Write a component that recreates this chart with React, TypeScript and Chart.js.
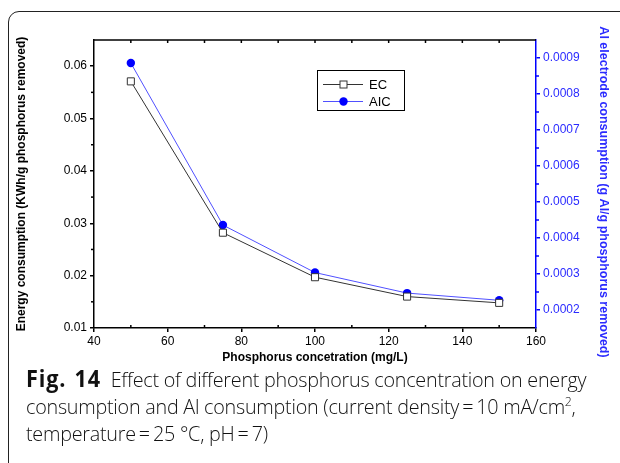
import React, { useEffect, useRef } from "react";
import { Chart, registerables } from "chart.js";

Chart.register(...registerables);

const concentrations = [50, 75, 100, 125, 150];
const energyConsumption = [0.0571, 0.0282, 0.0197, 0.016, 0.0148];
const alConsumption = [0.000886, 0.000436, 0.000304, 0.000247, 0.000227];
const seriesNames = ["EC", "AIC"];
const leftTicks = [0.01, 0.02, 0.03, 0.04, 0.05, 0.06];
const rightTicks = [0.0002, 0.0003, 0.0004, 0.0005, 0.0006, 0.0007, 0.0008, 0.0009];
const xTicks = [40, 60, 80, 100, 120, 140, 160];
const xTitle = "Phosphorus concetration (mg/L)";
const yLeftTitle = "Energy consumption (KWh/g phosphorus removed)";
const yRightTitle = "Al electrode consumption (g Al/g phosphorus removed)";

const FONT = "'Liberation Sans', Arial, sans-serif";
const BLUE = "#2b2bff";

const ticksPlugin = {
  id: "axisTicks",
  afterDraw(chart: any) {
    const ctx = chart.ctx;
    const x = chart.scales.x;
    const y = chart.scales.y;
    const y1 = chart.scales.y1;
    const area = chart.chartArea;
    ctx.save();
    ctx.lineWidth = 1.5;
    ctx.strokeStyle = "#000";
    ctx.beginPath();
    ctx.moveTo(area.left, area.top);
    ctx.lineTo(area.right, area.top);
    ctx.stroke();
    for (let v = 40; v <= 160; v += 10) {
      const px = x.getPixelForValue(v);
      const major = v % 20 === 0;
      if (v !== 40 && v !== 160) {
        ctx.beginPath();
        ctx.moveTo(px, area.top);
        ctx.lineTo(px, area.top + 3);
        ctx.stroke();
      }
      if (!major) {
        ctx.beginPath();
        ctx.moveTo(px, area.bottom);
        ctx.lineTo(px, area.bottom - 3);
        ctx.stroke();
      }
    }
    for (let i = 0; i < 11; i++) {
      const v = 0.015 + i * 0.01;
      if (v >= 0.065) break;
      const py = y.getPixelForValue(v);
      ctx.beginPath();
      ctx.moveTo(area.left, py);
      ctx.lineTo(area.left - 3, py);
      ctx.stroke();
    }
    ctx.strokeStyle = "#0000ff";
    for (let i = 0; i < 10; i++) {
      const v = 0.00025 + i * 0.0001;
      if (v >= 0.00095 - 1e-9) break;
      const py = y1.getPixelForValue(v);
      ctx.beginPath();
      ctx.moveTo(area.right, py);
      ctx.lineTo(area.right + 3, py);
      ctx.stroke();
    }
    // right axis title
    ctx.translate(603, (area.top + area.bottom) / 2 + 8);
    ctx.rotate(Math.PI / 2);
    ctx.fillStyle = BLUE;
    ctx.font = `bold 12.5px ${FONT}`;
    ctx.textAlign = "center";
    ctx.textBaseline = "middle";
    ctx.fillText(yRightTitle, 0, 0);
    ctx.restore();
  },
};

const legendPlugin = {
  id: "boxLegend",
  afterDraw(chart: any) {
    const ctx = chart.ctx;
    const bx = 317, by = 70, bw = 87, bh = 40;
    ctx.save();
    ctx.strokeStyle = "#000";
    ctx.lineWidth = 1;
    ctx.strokeRect(bx + 0.5, by + 0.5, bw, bh);
    const rows = [
      { y: 84.5, color: "#333", name: seriesNames[0], type: "rect" },
      { y: 101.5, color: "#5050ff", name: seriesNames[1], type: "circle" },
    ];
    ctx.font = `13px ${FONT}`;
    ctx.textBaseline = "middle";
    for (const r of rows) {
      ctx.strokeStyle = r.color;
      ctx.lineWidth = 1;
      ctx.beginPath();
      ctx.moveTo(323, r.y);
      ctx.lineTo(363, r.y);
      ctx.stroke();
      if (r.type === "rect") {
        ctx.fillStyle = "#fff";
        ctx.fillRect(340, r.y - 3.5, 7, 7);
        ctx.strokeRect(340, r.y - 3.5, 7, 7);
      } else {
        ctx.fillStyle = "#0000ff";
        ctx.beginPath();
        ctx.arc(343.5, r.y, 4.2, 0, Math.PI * 2);
        ctx.fill();
      }
      ctx.fillStyle = "#000";
      ctx.fillText(r.name, 369, r.y + 0.5);
    }
    ctx.restore();
  },
};

const setTicks = (vals: number[]) => (s: any) => {
  s.ticks = vals.map((v) => ({ value: v }));
};

export default function App() {
  const ref = useRef<HTMLCanvasElement | null>(null);
  useEffect(() => {
    if (!ref.current) return;
    const chart = new Chart(ref.current, {
      type: "line",
      data: {
        datasets: [
          {
            label: seriesNames[0],
            data: concentrations.map((c, i) => ({ x: c, y: energyConsumption[i] })),
            borderColor: "#333",
            borderWidth: 1,
            pointStyle: "rect",
            pointRadius: 5,
            pointBackgroundColor: "#fff",
            pointBorderColor: "#333",
            pointBorderWidth: 1,
            yAxisID: "y",
          },
          {
            label: seriesNames[1],
            data: concentrations.map((c, i) => ({ x: c, y: alConsumption[i] })),
            borderColor: "#5050ff",
            borderWidth: 1,
            pointStyle: "circle",
            pointRadius: 4.2,
            pointBackgroundColor: "#0000ff",
            pointBorderColor: "#0000ff",
            pointBorderWidth: 0,
            yAxisID: "y1",
          },
        ],
      },
      options: {
        animation: false,
        responsive: false,
        layout: { padding: { top: 40, left: 0, right: 0, bottom: 0 } },
        plugins: { legend: { display: false }, tooltip: { enabled: false } },
        scales: {
          x: {
            type: "linear",
            position: "bottom",
            min: 40,
            max: 160,
            afterBuildTicks: setTicks(xTicks),
            afterFit: (s: any) => { s.height = 42; },
            ticks: { color: "#000", font: { family: FONT, size: 12 }, padding: 2 },
            grid: { display: true, drawOnChartArea: false, drawTicks: true, tickLength: 4, color: "#000", lineWidth: 1.5 },
            border: { display: true, color: "#000", width: 1.5 },
            title: { display: true, text: xTitle, color: "#000", font: { family: FONT, size: 12, weight: "bold" }, padding: { top: 0, bottom: 5 } },
          },
          y: {
            type: "linear",
            position: "left",
            min: 0.01,
            max: 0.065,
            afterBuildTicks: setTicks(leftTicks),
            afterFit: (s: any) => { s.width = 94; },
            ticks: { color: "#000", font: { family: FONT, size: 12 }, padding: 3, callback: (v: any) => Number(v).toFixed(2) },
            grid: { display: true, drawOnChartArea: false, drawTicks: true, tickLength: 4, color: "#000", lineWidth: 1.5 },
            border: { display: true, color: "#000", width: 1.5 },
            title: { display: true, text: yLeftTitle, color: "#000", font: { family: FONT, size: 12, weight: "bold" }, padding: { top: 14, bottom: 0 } },
          },
          y1: {
            type: "linear",
            position: "right",
            min: 0.00015,
            max: 0.00095,
            afterBuildTicks: setTicks(rightTicks),
            afterFit: (s: any) => { s.width = 84; },
            ticks: { color: BLUE, font: { family: FONT, size: 12 }, padding: 3, callback: (v: any) => Number(v).toFixed(4) },
            grid: { display: true, drawOnChartArea: false, drawTicks: true, tickLength: 4, color: "#0000ff", lineWidth: 1.5 },
            border: { display: true, color: "#0000ff", width: 1.5 },
            title: { display: false },
          },
        },
      } as any,
      plugins: [ticksPlugin, legendPlugin],
    });
    return () => chart.destroy();
  }, []);

  const capStyle: React.CSSProperties = {
    fontFamily: "'Open Sans', sans-serif",
    fontWeight: 300,
    fontSize: 21,
    lineHeight: "27px",
    letterSpacing: "-0.25px",
    whiteSpace: "nowrap",
    color: "#111",
    transform: "scaleX(0.94)",
    transformOrigin: "0 0",
  };

  return (
    <div style={{ position: "fixed", left: 0, top: 0, width: 620, height: 463, overflow: "hidden", background: "#fff" }}>
      <div style={{ position: "absolute", left: 8, top: 11, width: 700, height: 600, border: "1px solid #222", borderRadius: 11 }} />
      <canvas ref={ref} width={620} height={370} style={{ position: "absolute", left: 0, top: 0, width: 620, height: 370 }} />
      <div style={{ position: "absolute", left: 26, top: 365, ...capStyle }}>
        <div>
          <span style={{ fontWeight: 700, fontSize: 23, letterSpacing: "0.9px", wordSpacing: "2px" }}>Fig. 14</span>
          <span>{"\u2002Effect of different phosphorus concentration on energy"}</span>
        </div>
        <div>
          consumption and Al consumption (current density{"\u2009=\u2009"}10 mA/cm<sup style={{ fontSize: 13, lineHeight: 0, verticalAlign: "8px" }}>2</sup>,
        </div>
        <div>temperature{"\u2009=\u2009"}25 °C, pH{"\u2009=\u2009"}7)</div>
      </div>
    </div>
  );
}
